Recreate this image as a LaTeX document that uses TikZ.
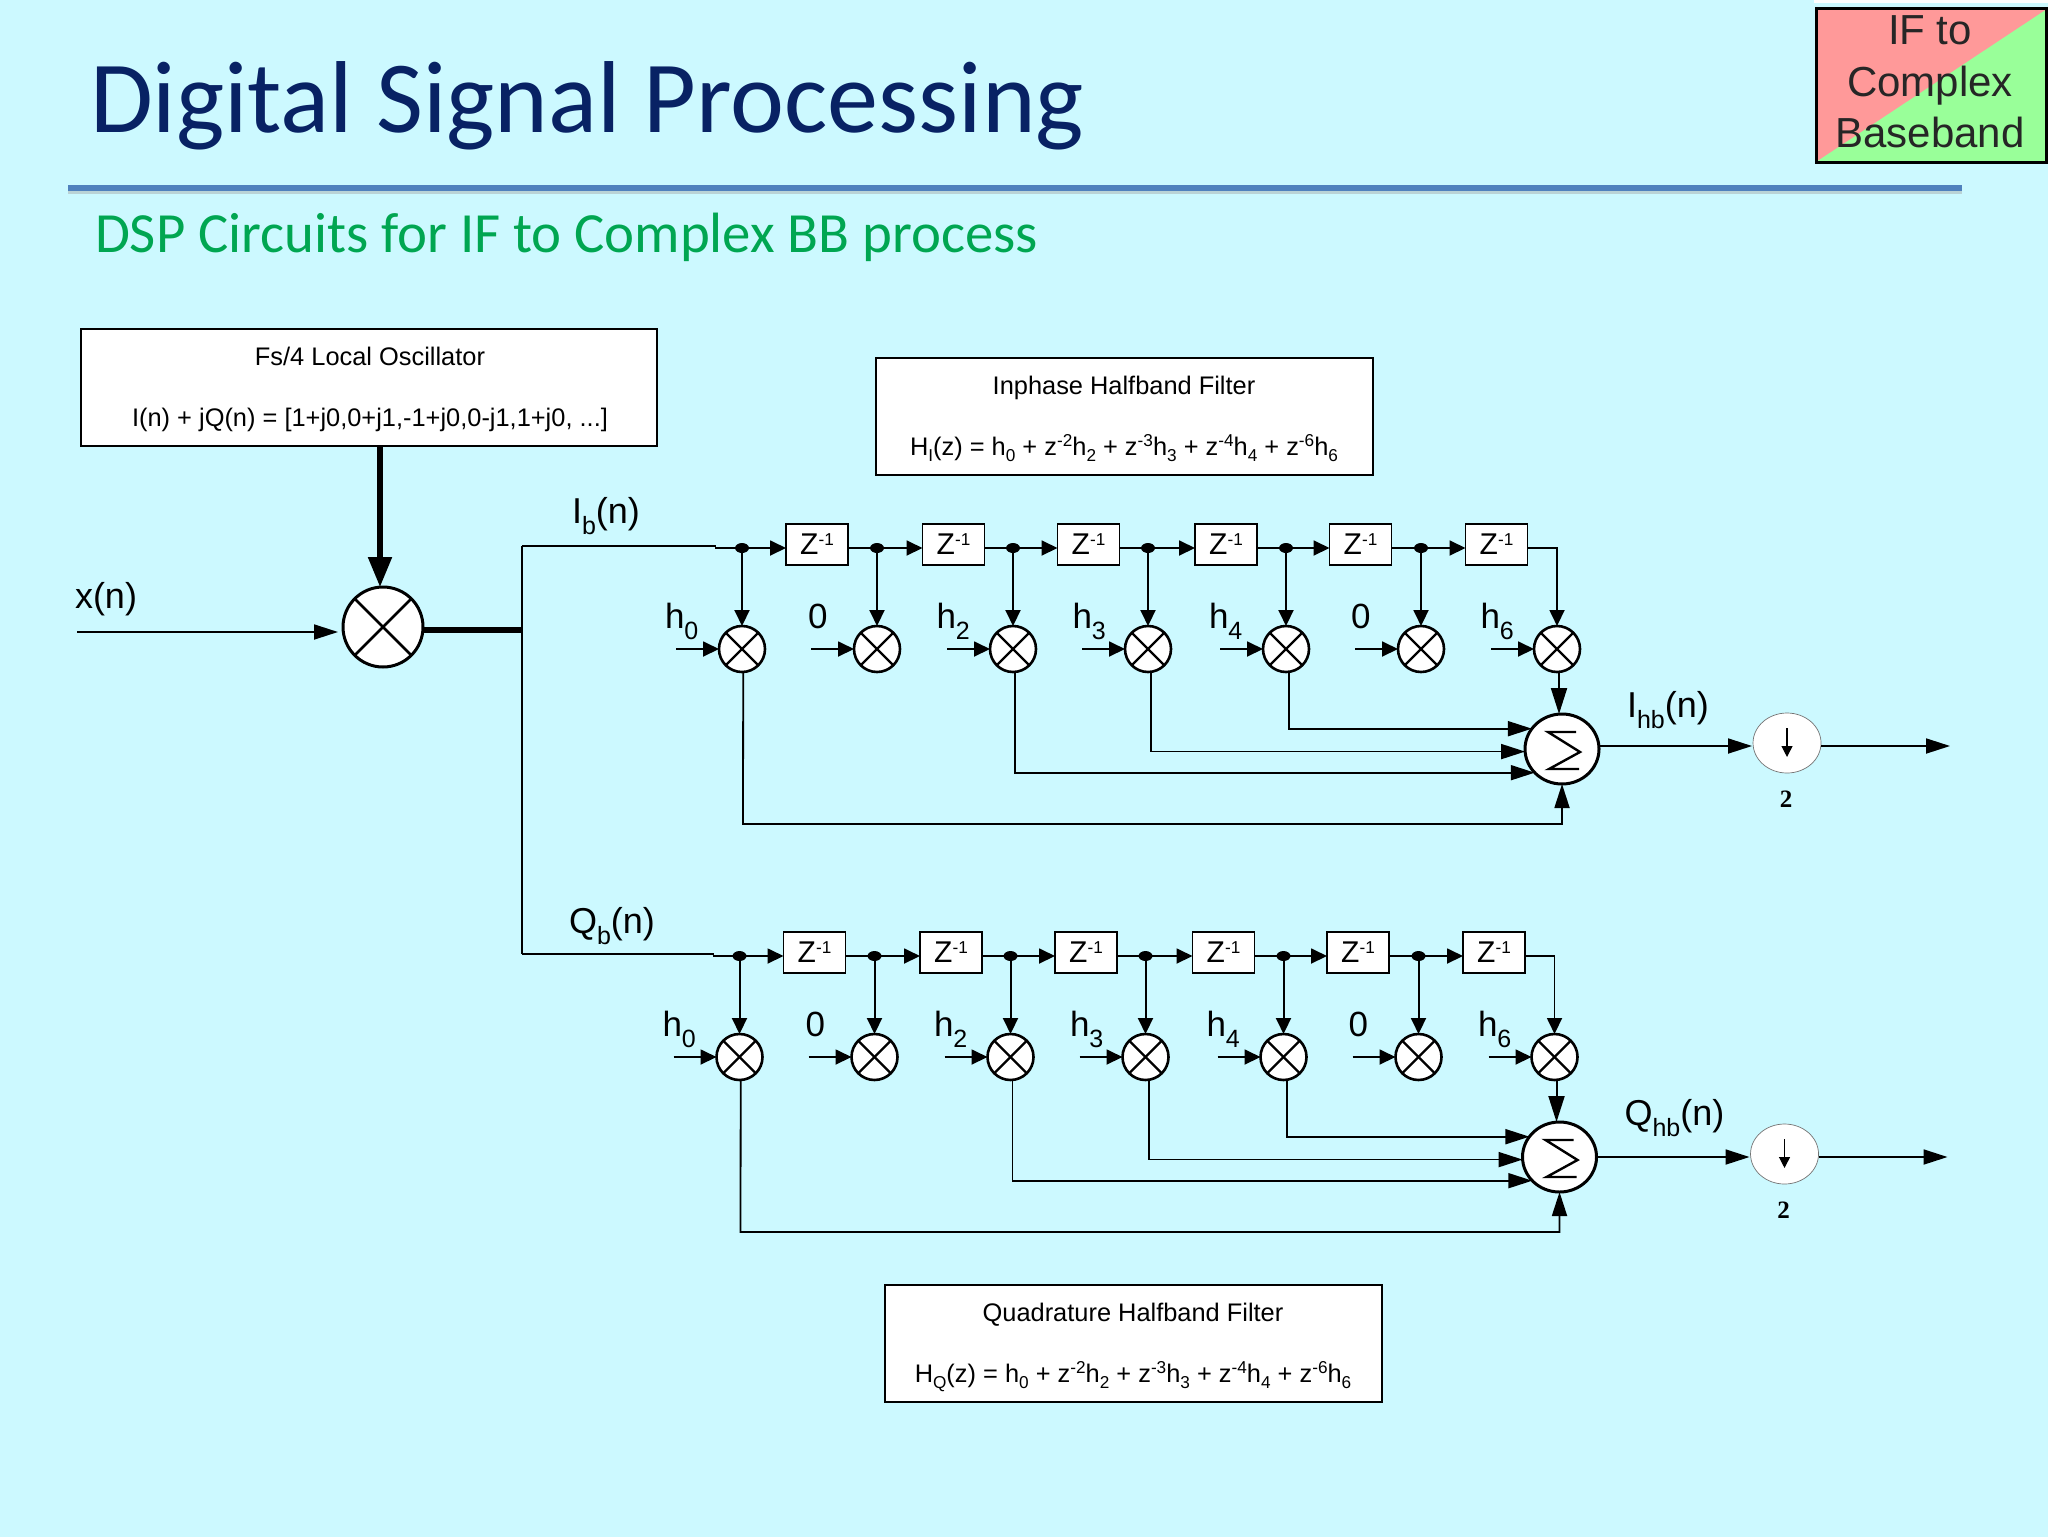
\documentclass[tikz,border=0pt]{standalone}
\usepackage{fontspec}
\setmainfont{Liberation Sans}
\newfontfamily\titlefont{Carlito}
\newfontfamily\twofont{Liberation Serif}
\usetikzlibrary{arrows.meta,shapes.geometric,calc,shadows}
\definecolor{bgc}{RGB}{204,249,255}
\definecolor{titlec}{RGB}{8,34,100}
\definecolor{subc}{RGB}{0,166,81}
\definecolor{rulec}{RGB}{79,129,189}
\definecolor{badger}{RGB}{255,153,153}
\definecolor{badgeg}{RGB}{153,255,153}
\newcommand{\lsub}[2][12.5]{\raisebox{-5.5pt}{\fontsize{#1}{#1}\selectfont #2}}
\newcommand{\ssub}[1]{\raisebox{-3pt}{\fontsize{8.6}{8.6}\selectfont #1}}
\newcommand{\ssup}[1]{\raisebox{4.5pt}{\fontsize{8.6}{8.6}\selectfont #1}}
\tikzset{
  x=0.5pt,y=-0.5pt,
  every node/.style={inner sep=0,outer sep=0},
  wire/.style={line width=0.9pt,black},
  tipS/.style={-{Triangle[length=8pt,width=7.5pt]}},
  tipM/.style={-{Triangle[length=12pt,width=7.5pt]}},
  tipL/.style={-{Triangle[length=13pt,width=8pt]}},
  zbox/.style={draw,line width=0.7pt,fill=white,minimum width=31pt,minimum height=20.5pt,font=\fontsize{15}{15}\selectfont},
  mult/.style={circle,draw,line width=1.3pt,fill=white,minimum size=23pt},
  adder/.style={ellipse,draw,line width=1.5pt,fill=white,minimum width=37pt,minimum height=35pt},
  down/.style={ellipse,draw=black!55,line width=0.35pt,fill=white,minimum width=34pt,minimum height=30pt},
  textbox/.style={draw,line width=0.7pt,fill=white,anchor=north west},
  boxtext/.style={font=\fontsize{12.7}{12.7}\selectfont,anchor=base},
  sig/.style={font=\fontsize{18}{18}\selectfont,anchor=base west},
  dot/.style={ellipse,fill=black,minimum width=7pt,minimum height=5pt},
}
% #1 name prefix, #2 output block y offset, #3 output label
\newcommand{\filterrow}[3]{%
  \foreach \n/\zx in {1/817,2/953.5,3/1088.5,4/1226,5/1360.5,6/1496.5}{
    \node[zbox] (#1z\n) at (\zx,544.5) {Z\ssup{-1}};
  }
  \foreach \n/\mx in {1/742,2/877,3/1013,4/1148,5/1286,6/1421}{
    \node[dot] (#1d\n) at (\mx,548) {};
    \node[mult] (#1m\n) at (\mx,649) {};
    \coordinate (#1c\n) at (\mx-66,649);
  }
  \node[mult] (#1m7) at (1557,649) {};
  \coordinate (#1c7) at (1491,649);
  \coordinate (#1corner) at (1557,548);
  \coordinate (#1stub) at (715,548);
  \coordinate (#1tee) at (716,546);
  \foreach \n in {1,...,7}{
    \draw[line width=1.1pt] (#1m\n.45) -- (#1m\n.225);
    \draw[line width=1.1pt] (#1m\n.135) -- (#1m\n.-45);
    \draw[wire,tipS] (#1c\n) -- (#1m\n.west);
  }
  \foreach \n in {1,...,6}{
    \draw[wire,tipS,line width=1pt] (#1d\n.center) -- (#1m\n.north);
  }
  \draw[line width=1.2pt] (#1stub) -- (#1d1.center);
  \draw[wire,tipS] (#1d1.center) -- (#1z1.west |- #1d1.center);
  \draw[wire,tipS] (#1z1.east |- #1d2.center) -- (#1d2.center) -- (#1z2.west |- #1d2.center);
  \draw[wire,tipS] (#1z2.east |- #1d3.center) -- (#1d3.center) -- (#1z3.west |- #1d3.center);
  \draw[wire,tipS] (#1z3.east |- #1d4.center) -- (#1d4.center) -- (#1z4.west |- #1d4.center);
  \draw[wire,tipS] (#1z4.east |- #1d5.center) -- (#1d5.center) -- (#1z5.west |- #1d5.center);
  \draw[wire,tipS] (#1z5.east |- #1d6.center) -- (#1d6.center) -- (#1z6.west |- #1d6.center);
  \draw[wire,tipS] (#1z6.east |- #1corner) -- (#1corner) -- (#1m7.north);
  \foreach \lab/\lx/\sb in {h/665/0,h/936.5/2,h/1072.5/3,h/1209/4,h/1480.5/6}{
    \node[sig,font=\fontsize{17.5}{17.5}\selectfont] at (\lx,628) {\lab\lsub{\sb}};
  }
  \node[sig,font=\fontsize{17.5}{17.5}\selectfont] at (808,628) {0};
  \node[sig,font=\fontsize{17.5}{17.5}\selectfont] at (1351,628) {0};
  \node[adder] (#1s) at (1562,749) {};
  \draw[line width=1.2pt,shift={(#1s.center)}] (14,-17) -- (-14,-17) -- (18,3) -- (-13,20) -- (17,20);
  \draw[wire,tipL,line width=1pt] (#1m7.-85) -- (#1m7.-85 |- #1s.north);
  \draw[wire,tipM] (#1m5.-82) |- (#1s.146.3);
  \draw[wire,tipM] (#1m4.-82) |- (#1s.184.6);
  \draw[wire,tipM] (#1m3.-85) |- (#1s.221.6);
  \coordinate (#1low) at (743,824);
  \draw[wire,tipM] (#1m1.-87) -- (#1low) -| (#1s.south);
  \begin{scope}[shift={(0,#2)}]
  \node[down] (#1dn) at (1787,743) {};
  \coordinate (#1dnt) at (1787,728);
  \coordinate (#1dnb) at (1787,757);
  \draw[line width=0.6pt,-{Triangle[length=5.5pt,width=5.5pt]}] (#1dnt) -- (#1dnb);
  \coordinate (#1dnin) at (1752,746);
  \coordinate (#1dno) at (1821,746);
  \coordinate (#1end) at (1950,746);
  \draw[wire,tipM] (#1s.east |- #1dnin) -- (#1dnin);
  \draw[wire,tipM] (#1dno) -- (#1end);
  \node[font=\twofont\bfseries\fontsize{12.5}{12.5}\selectfont,anchor=base] at (1786,807) {2};
  \end{scope}
  \node[sig] at (1627,717) {#3};
}
\begin{document}
\begin{tikzpicture}
\useasboundingbox (0,0) rectangle (2048,1536);
\fill[bgc] (-4,-4) rectangle (2052,1540);
% title block
\node[font=\titlefont\fontsize{51.1}{51.1}\selectfont,text=titlec,anchor=base west] (title) at (90,133) {Digital Signal Processing};
\fill[black!35,opacity=.45] (68,190) rectangle (1962,194);
\fill[rulec] (68,185) rectangle (1962,191);
\node[font=\titlefont\fontsize{28.4}{28.4}\selectfont,text=subc,anchor=base west] (subt) at (95,252) {DSP Circuits for IF to Complex BB process};
% badge
\fill[white] (1814,-4) rectangle (2052,3);
\fill[badger] (1816,9) rectangle (2047,162);
\fill[badgeg] (1816,162) -- (2047,9) -- (2047,162) -- cycle;
\draw[line width=1.5pt] (1816,9) rectangle (2046,162);
\foreach \t/\yy in {IF to/45,Complex/97,Baseband/148}{
  \node[font=\fontsize{21}{21}\selectfont,text=black!85,anchor=base] at (1930,\yy) {\t};
}
% text boxes
\node[textbox,minimum width=288pt,minimum height=58.5pt] (lo) at (81,329) {};
\node[boxtext] at (370,365) {Fs/4 Local Oscillator};
\node[boxtext] at (370,426) {I(n) + jQ(n) = [1+j0,0+j1,-1+j0,0-j1,1+j0, ...]};
\node[textbox,minimum width=248.5pt,minimum height=58.5pt] (ibox) at (876,358) {};
\node[boxtext] at (1124,394) {Inphase Halfband Filter};
\node[boxtext] at (1124,455) {H\ssub{I}(z) = h\ssub{0} + z\ssup{-2}h\ssub{2} + z\ssup{-3}h\ssub{3} + z\ssup{-4}h\ssub{4} + z\ssup{-6}h\ssub{6}};
\node[textbox,minimum width=248.5pt,minimum height=58.5pt] (qbox) at (885,1285) {};
\node[boxtext] at (1133,1321) {Quadrature Halfband Filter};
\node[boxtext] at (1133,1382) {H\ssub{Q}(z) = h\ssub{0} + z\ssup{-2}h\ssub{2} + z\ssup{-3}h\ssub{3} + z\ssup{-4}h\ssub{4} + z\ssup{-6}h\ssub{6}};
% mixer
\node[circle,draw,line width=1.5pt,fill=white,minimum size=40pt] (mix) at (383,627) {};
\draw[line width=1.3pt] (mix.45) -- (mix.225);
\draw[line width=1.3pt] (mix.135) -- (mix.-45);
\coordinate (xin) at (77,632);
\coordinate (xtip) at (338,632);
\draw[wire,tipM] (xin) -- (xtip);
\node[sig] at (75,608) {x(n)};
\coordinate (losrc) at (380,446);
\coordinate (mixtop) at (380,587);
\draw[line width=2.6pt,-{Triangle[length=15pt,width=11.5pt]}] (losrc) -- (mixtop);
\coordinate (split) at (523,630);
\draw[line width=2.6pt] (mix.east |- split) -- (split);
% two rows
\filterrow{i}{0}{I\lsub{hb}(n)}
\begin{scope}[shift={(-2.5,408)}]
\filterrow{q}{3}{Q\lsub{hb}(n)}
\end{scope}
\draw[wire] (522,546) -- (522,954);
\draw[wire] (522,546) -- (itee);
\draw[wire] (522,954) -- (qtee);
\node[sig] at (572,523) {I\lsub{b}(n)};
\node[sig] at (569,933) {Q\lsub{b}(n)};
\end{tikzpicture}
\end{document}
